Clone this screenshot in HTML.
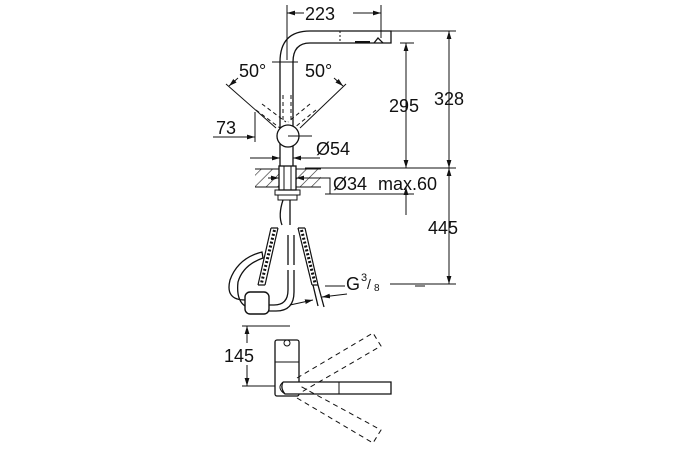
<!DOCTYPE html>
<html><head><style>
body{margin:0;background:#fff;width:675px;height:450px;overflow:hidden}
svg{display:block}
text{font-family:"Liberation Sans",sans-serif;font-size:18px;fill:#111}
</style></head><body>
<svg width="675" height="450" viewBox="0 0 675 450" xmlns="http://www.w3.org/2000/svg">
<defs>
<marker id="a" viewBox="0 0 10 10" refX="10" refY="5" markerWidth="8" markerHeight="8" orient="auto-start-reverse"><path d="M0,2 L10,5 L0,8 z" fill="#111"/></marker>
<pattern id="h" width="8" height="8" patternUnits="userSpaceOnUse" patternTransform="rotate(45)"><line x1="0" y1="0" x2="0" y2="8" stroke="#222" stroke-width="1.2"/></pattern>
</defs>
<g stroke="#111" stroke-width="1" fill="none">
<line x1="287" y1="5" x2="287" y2="60"/><line x1="381" y1="5" x2="381" y2="38"/>
<line x1="287" y1="13" x2="304" y2="13" marker-start="url(#a)"/><line x1="353" y1="13" x2="381" y2="13" marker-end="url(#a)"/>
<path d="M280,170 L280,62 Q280,31 310,31 L391,31 L391,43 L310,43 Q293,43 293,62 L293,170" stroke-width="1.3"/>
<line x1="340" y1="31" x2="340" y2="43" stroke-dasharray="2,2"/>
<path d="M374,43 L378,38 L383,43" stroke-width="1.3"/>
<line x1="355" y1="42" x2="370" y2="42" stroke-width="2"/>
<line x1="391" y1="31" x2="456" y2="31"/><line x1="400" y1="43" x2="414" y2="43"/>
<line x1="305" y1="168" x2="456" y2="168"/>
<line x1="449" y1="31" x2="449" y2="168" marker-start="url(#a)" marker-end="url(#a)"/>
<line x1="406" y1="43" x2="406" y2="168" marker-start="url(#a)" marker-end="url(#a)"/>
<line x1="449" y1="168" x2="449" y2="284" marker-start="url(#a)" marker-end="url(#a)"/>
<line x1="390" y1="284" x2="456" y2="284"/>
<line x1="325" y1="194" x2="414" y2="194"/>
<line x1="406" y1="215" x2="406" y2="187" marker-end="url(#a)"/>
<line x1="226" y1="84" x2="276" y2="128"/><line x1="346" y1="84" x2="300" y2="128"/>
<line x1="238" y1="78" x2="229" y2="86" marker-end="url(#a)"/><line x1="334" y1="78" x2="343" y2="86" marker-end="url(#a)"/>
<line x1="272" y1="62" x2="298" y2="62"/>
<path d="M256,110 L280,128 M262,104 L286,122" stroke-dasharray="4,3"/>
<path d="M316,110 L294,128 M310,104 L288,122" stroke-dasharray="4,3"/>
<line x1="283" y1="95" x2="283" y2="120" stroke-dasharray="4,3"/><line x1="291" y1="95" x2="291" y2="120" stroke-dasharray="4,3"/>
<circle cx="288" cy="136" r="11" fill="#fff" stroke-width="1.3"/>
<line x1="288" y1="136" x2="312" y2="136"/>
<line x1="255" y1="112" x2="255" y2="142"/>
<line x1="213" y1="137" x2="255" y2="137" marker-end="url(#a)"/>
<line x1="250" y1="158" x2="280" y2="158" marker-end="url(#a)"/><line x1="320" y1="158" x2="293" y2="158" marker-end="url(#a)"/>
<rect x="255" y="169" width="66" height="18" fill="url(#h)" stroke="none"/>
<line x1="255" y1="169" x2="321" y2="169"/><line x1="255" y1="187" x2="321" y2="187"/>
<rect x="279" y="166" width="17" height="24" fill="#fff" stroke-width="1.3"/>
<line x1="284" y1="166" x2="284" y2="190"/><line x1="291" y1="166" x2="291" y2="190"/>
<line x1="268" y1="178" x2="279" y2="178" marker-end="url(#a)"/><line x1="306" y1="178" x2="296" y2="178" marker-end="url(#a)"/>
<path d="M306,178 L330,178 L330,194"/>
<rect x="275" y="190" width="25" height="5"/><rect x="278" y="195" width="19" height="5"/>
<path d="M283,200 Q278,215 282,225 M290,200 L290,225" stroke-width="1.3"/>
<path d="M271,228 L258,285 M278,228 L265,285 M271,228 L278,228 M258,285 L265,285" stroke-width="1.2"/>
<path d="M274.5,230 L261.5,283" stroke-width="3" stroke-dasharray="2,2"/>
<path d="M298,228 L312,285 M305,228 L318,285 M298,228 L305,228 M312,285 L318,285" stroke-width="1.2"/>
<path d="M301.5,230 L315,283" stroke-width="3" stroke-dasharray="2,2"/>
<path d="M288,235 L288,265 M294,235 L294,265" stroke-width="1.3"/>
<path d="M288,270 L288,290 Q288,305 274,305 L268,305 M294,270 L294,292 Q294,311 276,311 L268,311" stroke-width="1.3"/>
<rect x="245" y="292" width="24" height="22" rx="5" fill="#fff" stroke-width="1.4"/>
<path d="M245,300 Q225,300 230,280 Q238,258 262,252 L263,258 Q243,265 238,282 Q236,300 245,306" stroke-width="1.3"/>
<path d="M313,285 L318,306 M318,285 L324,307" stroke-width="1.3"/>
<line x1="290" y1="305" x2="313" y2="300" marker-end="url(#a)"/>
<line x1="347" y1="294" x2="322" y2="297" marker-end="url(#a)"/>
<line x1="325" y1="286" x2="345" y2="286"/><line x1="415" y1="286" x2="425" y2="286"/>
<line x1="242" y1="326" x2="290" y2="326"/><line x1="242" y1="386" x2="283" y2="386"/>
<line x1="247" y1="326" x2="247" y2="343" marker-start="url(#a)"/><line x1="247" y1="365" x2="247" y2="386" marker-end="url(#a)"/>
<rect x="275" y="340" width="24" height="56" rx="2" fill="#fff" stroke-width="1.3"/>
<line x1="275" y1="362" x2="299" y2="362"/>
<circle cx="287" cy="343" r="3"/>
<path d="M283,382 L391,382 L391,394 L285,394 Q280,388 283,382" fill="#fff" stroke-width="1.3"/>
<path d="M283,382 Q276,388 285,394"/>
<line x1="339" y1="382" x2="339" y2="394"/>
<g stroke-dasharray="5,4">
<path d="M297,378 L373,333 L381,346 L300,393"/>
<path d="M297,398 L373,443 L381,430 L300,386"/>
</g>
</g>
<text x="305" y="20">223</text>
<text x="389" y="112">295</text>
<text x="434" y="105">328</text>
<text x="239" y="77">50°</text>
<text x="305" y="77">50°</text>
<text x="216" y="134">73</text>
<text x="316" y="155">Ø54</text>
<text x="333" y="190">Ø34</text>
<text x="378" y="190">max.60</text>
<text x="428" y="234">445</text>
<text x="346" y="290">G</text><text x="361" y="281" style="font-size:11px">3</text><text x="367" y="289" style="font-size:14px">/</text><text x="374" y="291" style="font-size:10px">8</text>
<text x="224" y="362">145</text>
</svg>
</body></html>
